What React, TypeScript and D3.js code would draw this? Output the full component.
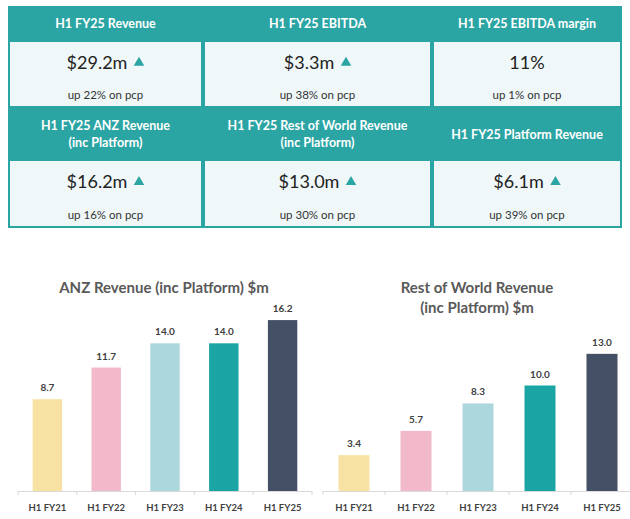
import React from "react";
import * as d3 from "d3";

// KPI tiles, two rows of three
const kpiTitles = [
  ["H1 FY25 Revenue"],
  ["H1 FY25 EBITDA"],
  ["H1 FY25 EBITDA margin"],
  ["H1 FY25 ANZ Revenue", "(inc Platform)"],
  ["H1 FY25 Rest of World Revenue", "(inc Platform)"],
  ["H1 FY25 Platform Revenue"],
];
const kpiValues = ["$29.2m", "$3.3m", "11%", "$16.2m", "$13.0m", "$6.1m"];
const kpiUp = [true, true, false, true, true, true];
const kpiChanges = [
  "up 22% on pcp",
  "up 38% on pcp",
  "up 1% on pcp",
  "up 16% on pcp",
  "up 30% on pcp",
  "up 39% on pcp",
];

// Half-year revenue history ($m)
const periods = ["H1 FY21", "H1 FY22", "H1 FY23", "H1 FY24", "H1 FY25"];
const anzRevenue = [8.7, 11.7, 14.0, 14.0, 16.2];
const rowRevenue = [3.4, 5.7, 8.3, 10.0, 13.0];
const barColors = ["#f8e2a3", "#f2b9ca", "#acd8dd", "#1aa5a4", "#445065"];

const TEAL = "#2ba5a4";
const FONT = "Lato, 'Open Sans', sans-serif";

const colEdges = [8, 203, 432, 622];
const rows = [
  { top: 6, head: 41, bottom: 108 },
  { top: 108, head: 160, bottom: 228 },
];

const baseY = 491;
const y = d3.scaleLinear().domain([0, 18]).range([baseY, baseY - 18 * 10.55]);

function Tiles() {
  return (
    <g fontFamily={FONT}>
      {kpiTitles.map((title, i) => {
        const r = rows[Math.floor(i / 3)];
        const c = i % 3;
        const x0 = colEdges[c];
        const x1 = colEdges[c + 1];
        const cx = (x0 + x1) / 2;
        const headMid = (r.top + r.head) / 2;
        const valueY = r.head + (r.bottom - r.head) * 0.31;
        const subY = r.head + (r.bottom - r.head) * 0.8;
        const valueX = kpiUp[i] ? cx - 8.5 : cx;
        return (
          <g key={i}>
            <rect x={x0} y={r.top} width={x1 - x0} height={r.head - r.top} fill={TEAL} />
            <rect
              x={x0 + 1}
              y={r.head}
              width={x1 - x0 - 2}
              height={r.bottom - r.head - 1}
              fill="#eff7f8"
              stroke={TEAL}
              strokeWidth={2}
            />
            {title.map((line, k) => (
              <text
                key={k}
                x={cx}
                y={headMid + (k - (title.length - 1) / 2) * 17}
                textAnchor="middle"
                dominantBaseline="central"
                fill="#fff"
                fontWeight={700}
                fontSize={12.5}
              >
                {line}
              </text>
            ))}
            <text
              x={valueX}
              y={valueY}
              textAnchor="middle"
              dominantBaseline="central"
              fill="#222"
              fontSize={18}
            >
              {kpiValues[i]}
            </text>
            {kpiUp[i] && (
              <path
                d={d3.symbol(d3.symbolTriangle, 48)() || ""}
                transform={`translate(${valueX + kpiValues[i].length * 5 + 12},${valueY + 1})`}
                fill={TEAL}
              />
            )}
            <text
              x={cx}
              y={subY}
              textAnchor="middle"
              dominantBaseline="central"
              fill="#333"
              fontSize={11.5}
            >
              {kpiChanges[i]}
            </text>
          </g>
        );
      })}
    </g>
  );
}

function BarChart({
  values,
  title,
  titleX,
  range,
}: {
  values: number[];
  title: string[];
  titleX: number;
  range: [number, number];
}) {
  const x = d3.scaleBand<string>().domain(periods).range(range).paddingInner(0.5).paddingOuter(0.25);
  const edges = periods.map((p) => (x(p) as number) - (x.step() * x.paddingInner()) / 2);
  return (
    <g fontFamily={FONT}>
      {title.map((line, k) => (
        <text
          key={k}
          x={titleX}
          y={287 + k * 20}
          textAnchor="middle"
          dominantBaseline="central"
          fill="#595959"
          fontWeight={700}
          fontSize={15}
        >
          {line}
        </text>
      ))}
      {values.map((v, i) => (
        <g key={periods[i]}>
          <rect
            x={x(periods[i])}
            y={y(v)}
            width={x.bandwidth()}
            height={baseY - y(v)}
            fill={barColors[i]}
          />
          <text
            x={(x(periods[i]) as number) + x.bandwidth() / 2}
            y={y(v) - 12}
            textAnchor="middle"
            dominantBaseline="central"
            fill="#404040"
            fontWeight={700}
            fontSize={10}
          >
            {v.toFixed(1)}
          </text>
          <text
            x={(x(periods[i]) as number) + x.bandwidth() / 2}
            y={507}
            textAnchor="middle"
            dominantBaseline="central"
            fill="#404040"
            fontWeight={700}
            fontSize={9.5}
          >
            {periods[i]}
          </text>
        </g>
      ))}
      <line x1={range[0]} x2={range[1]} y1={baseY + 0.5} y2={baseY + 0.5} stroke="#d9d9d9" />
      {[...edges, range[1]].map((ex, i) => (
        <line key={i} x1={ex} x2={ex} y1={baseY} y2={baseY + 4} stroke="#d9d9d9" />
      ))}
    </g>
  );
}

export default function App() {
  return (
    <svg
      width={630}
      height={519}
      style={{ position: "absolute", left: 0, top: 0, background: "#fff" }}
    >
      <Tiles />
      <BarChart
        values={anzRevenue}
        title={["ANZ Revenue (inc Platform) $m"]}
        titleX={164}
        range={[18, 312]}
      />
      <BarChart
        values={rowRevenue}
        title={["Rest of World Revenue", "(inc Platform) $m"]}
        titleX={477}
        range={[323, 633]}
      />
    </svg>
  );
}
